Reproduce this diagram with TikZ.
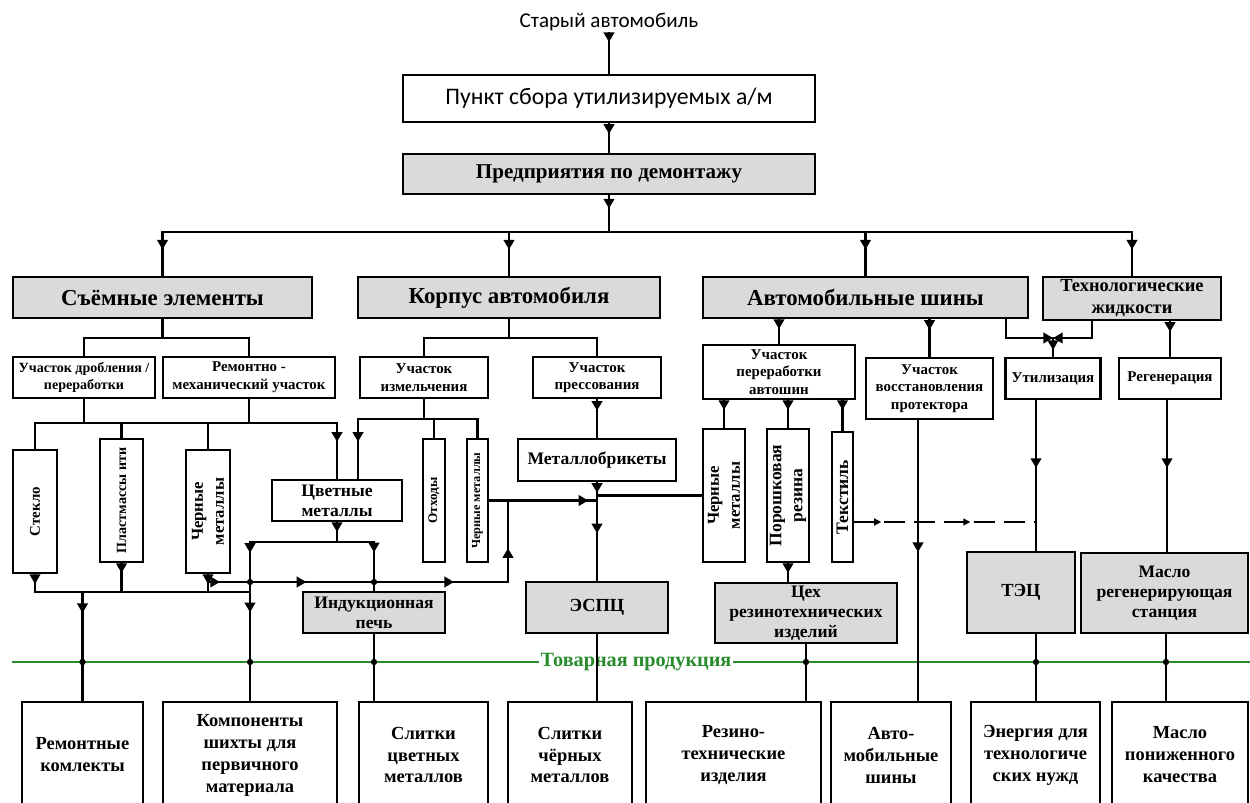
\documentclass[tikz,border=0pt]{standalone}
\usepackage{fontspec}
\setmainfont{Liberation Serif}
\newfontfamily\calfont{Carlito}
\usetikzlibrary{arrows.meta, decorations.markings}
\definecolor{boxgray}{RGB}{218,218,218}
\definecolor{prodgreen}{RGB}{40,140,45}

\begin{document}
\begin{tikzpicture}[x=0.02cm, y=-0.02cm,
           link/.style = {line width=1.3pt, line cap=rect},
          tipat/.style = {postaction={decorate, decoration={markings,
                          mark=at position #1 with {\arrow{Triangle[length=5.5pt,width=6pt]}}}}},
         dtipat/.style = {postaction={decorate, decoration={markings,
                          mark=at position #1 with {\arrow{Triangle[length=4pt,width=4pt]}}}}},
         tipend/.style = {-{Triangle[length=5.5pt,width=6pt]}},
          dline/.style = {line width=0.8pt, dash pattern=on 12pt off 5pt},
             wh/.style 2 args = {minimum width=#1*0.02cm, minimum height=#2*0.02cm},
          block/.style = {draw, line width=1.5pt, fill=white, align=center,
                          inner sep=1pt, font=\bfseries\fontsize{8.5}{10}\selectfont},
         gblock/.style = {block, fill=boxgray},
        bigtext/.style = {font=\bfseries\fontsize{13}{15}\selectfont},
          vtext/.style = {rotate=90, align=center, inner sep=0pt},
         vblock/.style n args = {3}{block, label={[vtext,
                          font=\bfseries\fontsize{#1}{#2}\selectfont]center:#3}},
        product/.style = {block, minimum height=106*0.02cm,
                          font=\bfseries\fontsize{10.5}{12.5}\selectfont}
                        ]
\useasboundingbox (0,0) rectangle (1250,803);
\clip (0,0) rectangle (1250,803);
% collection and dismantling
\node[inner sep=1pt, font=\calfont\fontsize{12}{14}\selectfont] (old) at (609,22) {Старый автомобиль};
\node[block, wh={412}{47}, font=\calfont\fontsize{13.5}{15}\selectfont] (pnkt) at (609,98.5) {Пункт сбора утилизируемых а/м};
\node[gblock, wh={412}{40}, font=\bfseries\fontsize{12}{14}\selectfont] (pred) at (609,174) {Предприятия по демонтажу};
% main groups
\node[gblock, bigtext, wh={299}{41}] (sem)  at (162.5,297.5) {Съёмные элементы};
\node[gblock, bigtext, wh={302}{41}] (korp) at (509,297.5)   {Корпус автомобиля};
\node[gblock, bigtext, wh={325}{41}] (shin) at (865.5,297.5) {Автомобильные шины};
\node[gblock, wh={178}{43}, font=\bfseries\fontsize{10.5}{12.5}\selectfont] (tzh) at (1132,298.5) {Технологические\\жидкости};
% sections
\node[block, wh={142}{41}, font=\bfseries\fontsize{8}{10}\selectfont] (drob) at (84,377.5) {Участок дробления /\\переработки};
\node[block, wh={172}{41}] (remm)  at (249,377.5)   {Ремонтно -\\механический участок};
\node[block, wh={128}{41}] (izm)   at (424,377.5)   {Участок\\измельчения};
\node[block, wh={128}{41}] (pres)  at (597,377.5)   {Участок\\прессования};
\node[block, wh={152}{54}] (pavt)  at (779,372)     {Участок\\переработки\\автошин};
\node[block, wh={127}{61}] (vpr)   at (929.5,388.5) {Участок\\восстановления\\протектора};
\node[block, wh={95}{41}]  (util)  at (1053,378.5)  {Утилизация};
\node[block, wh={102}{41}] (regen) at (1170,378.5)  {Регенерация};
% materials
\node[vblock={8.5}{10}{Стекло}, wh={44}{123}] (stek) at (35,511.5) {};
\node[vblock={8}{10}{Пластмассы ити}, wh={43}{123}] (plast) at (121.5,500.5) {};
\node[vblock={9.5}{12}{Черные\\металлы}, wh={44}{123}] (chm-1) at (208,511.5) {};
\node[block, wh={130}{41}, font=\bfseries\fontsize{10}{11.5}\selectfont] (cvm) at (337,500.5) {Цветные\\металлы};
\node[vblock={7.5}{9}{Отходы}, wh={22}{123}] (othod) at (434,500.5) {};
\node[vblock={7}{9}{Черные металлы}, wh={21}{123}] (chm-2) at (477.5,500.5) {};
\node[block, wh={158}{42}, font=\bfseries\fontsize{10}{12}\selectfont] (mbr) at (597,460) {Металлобрикеты};
\node[vblock={9.5}{12}{Черные\\металлы}, wh={42}{133}] (chm-3) at (724,495.5) {};
\node[vblock={10}{12}{Порошковая\\резина}, wh={42}{133}] (por) at (788,495.5) {};
\node[vblock={10}{12}{Текстиль}, wh={21}{130}] (tex) at (842.5,497) {};
% plants
\node[gblock, wh={142}{41}, font=\bfseries\fontsize{10}{11.5}\selectfont] (ind) at (374,612.5) {Индукционная\\печь};
\node[gblock, wh={142}{51}, font=\bfseries\fontsize{10.5}{12}\selectfont] (es) at (597,607.5) {ЭСПЦ};
\node[gblock, wh={182}{60}, font=\bfseries\fontsize{10}{11.5}\selectfont] (ceh) at (806,613) {Цех\\резинотехнических\\изделий};
\node[gblock, wh={108}{81}, font=\bfseries\fontsize{10.5}{12}\selectfont] (tec) at (1021,592.5) {ТЭЦ};
\node[gblock, wh={167}{80}, font=\bfseries\fontsize{10}{11.5}\selectfont] (mrs) at (1164.5,593) {Масло\\регенерирующая\\станция};
% products
\foreach \cx/\w/\txt [count=\i] in {82.5/121/{Ремонтные\\комлекты},
        250/174/{Компоненты\\шихты для\\первичного\\материала},
        423.5/129/{Слитки\\цветных\\металлов},
        570/124/{Слитки\\чёрных\\металлов},
        733.5/175/{Резино-\\технические\\изделия},
        891/120/{Авто-\\мобильные\\шины},
        1035.5/129/{Энергия для\\технологиче\\ских нужд},
        1180/136/{Масло\\пониженного\\качества}}
    \node[product, minimum width=\w*0.02cm] (P-\i) at (\cx,755) {\txt};
% commodity line
\node[inner sep=1pt, text=prodgreen, font=\bfseries\fontsize{11.5}{13}\selectfont] (tov) at (636,662) {Товарная продукция};
\draw[prodgreen, line width=1.3pt] (12,662) -- (tov.west) (tov.east) -- (1250,662);
% top connections
\draw[link, tipat=-18pt] (old.south) -- (pnkt.north);
\draw[link, tipat=6pt] (pnkt.south) -- (pred.north);
\draw[link, tipat=7.5pt] (pred.south) -- (pred.south |- 0,232);
\draw[link] (sem.north |- 0,232) -- (tzh.north |- 0,232);
\foreach \n in {sem,korp,shin,tzh}
    \draw[link, tipat=10pt] (\n.north |- 0,232) -- (\n.north);
% removable parts
\draw[link] (sem.south) -- (sem.south |- 0,338);
\draw[link] (drob.north) |- (remm.north |- 0,338) -- (remm.north);
\draw[link] (drob.south) -- (drob.south |- 0,423);
\draw[link] (remm.south) -- (remm.south |- 0,423);
\draw[link, tipat=-21pt] (stek.north) |- (cvm.north |- 0,423) -- (cvm.north);
\draw[link] (plast.north) -- (plast.north |- 0,423);
\draw[link] (chm-1.north) -- (chm-1.north |- 0,423);
\draw[link, tipat=5.5pt] (stek.south) |- (P-2.north |- 0,592);
\draw[link, tipat=5.5pt] (plast.south) -- (plast.south |- 0,592);
\draw[link, tipat=5.5pt] (chm-1.south) -- (chm-1.south |- 0,592);
\draw[link, tipat=12pt] (P-1.north |- 0,592) -- (P-1.north);
\draw[link, tipat=6.8pt, tipat=56pt, tipat=140pt, tipat=190pt]
    (chm-1.south |- 0,582) -- (508,582) -- (508,0 |- chm-2.east);
\draw[link, tipat=5.5pt] (cvm.south) -- (cvm.south |- 0,542);
\draw[link, tipat=6.2pt, tipat=40pt] (P-2.north |- 0,542) -- (P-2.north);
\draw[link, tipat=76.5pt] (P-2.north |- 0,542) -| (ind.north);
\fill (P-2.north |- 0,582) circle (1.8pt) (ind.north |- 0,582) circle (1.8pt);
\draw[link] (ind.south) -- (ind.south |- P-3.north);
% car body
\draw[link] (korp.south) -- (korp.south |- 0,338);
\draw[link] (izm.north) |- (pres.north |- 0,338) -- (pres.north);
\draw[link] (izm.south) -- (izm.south |- 0,419);
\draw[link, tipat=-21pt] (chm-2.north) |- (358,419) -- (358,0 |- cvm.north);
\draw[link] (othod.north) -- (othod.north |- 0,419);
\draw[link, tipat=6.5pt] (pres.south) -- (mbr.north);
\draw[link, tipat=6pt, tipat=29pt] (mbr.south) -- (es.north);
\draw[link, tipat=-5pt] (chm-2.east) -- (mbr.south |- chm-2.east);
\draw[link] (es.south) -- (es.south |- P-4.north);
% tyres
\draw[link, tipat=5.5pt] (shin.south -| pavt.north) -- (pavt.north);
\draw[link, tipat=6pt] (vpr.north |- shin.south) -- (vpr.north);
\foreach \m in {chm-3,por,tex}
    \draw[link, tipat=5.5pt] (\m.north |- pavt.south) -- (\m.north);
\draw[link] (chm-3.west) -- (mbr.south |- chm-3.west);
\draw[link, tipat=5.5pt] (por.south) -- (por.south |- ceh.north);
\draw[link] (ceh.south) -- (ceh.south |- P-5.north);
\draw[dline, dtipat=15.3pt, dtipat=66pt] (tex.east |- 0,522) -- (1036,522);
\draw[link, tipat=75pt] (918,0 |- vpr.south) -- (918,0 |- P-6.north);
% fluids
\coordinate (jn) at (util.north |- 0,338);
\draw[link, tipend] (1006,0 |- shin.south) |- (jn);
\draw[link, tipend] (1092,0 |- tzh.south) |- (jn);
\draw[link, tipat=6.8pt] (jn) -- (util.north);
\draw[link, tipat=6pt] (regen.north |- tzh.south) -- (regen.north);
\draw[link, tipat=38.5pt] (1036,0 |- util.south) -- (1036,0 |- tec.north);
\draw[link] (1036,0 |- tec.south) -- (1036,0 |- P-7.north);
\draw[link, tipat=38.5pt] (1167,0 |- regen.south) -- (1167,0 |- mrs.north);
\draw[link] (1166,0 |- mrs.south) -- (1166,0 |- P-8.north);
\foreach \x in {82.5,250,806,1036,1166}
    \fill (\x,662) circle (1.8pt);
\fill (ind.south |- 0,662) circle (1.8pt);
\end{tikzpicture}
\end{document}
